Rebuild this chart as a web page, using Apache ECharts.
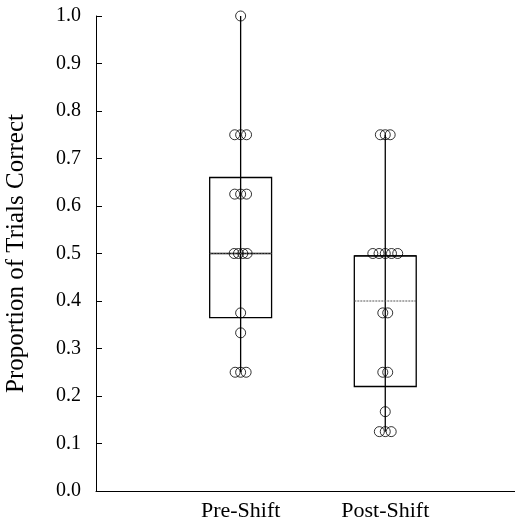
<!DOCTYPE html>
<html lang="en" style="height:100%">
<head>
    <meta charset="UTF-8">
    <title>Proportion of Trials Correct</title>
    <script src="https://cdn.jsdelivr.net/npm/echarts@6/dist/echarts.min.js"></script>
</head>
<body style="height:100%;margin:0;background:#fff">
<div id="main" style="width:515px;height:522px;"></div>
<script type="text/javascript">
    var groups = ['Pre-Shift', 'Post-Shift'];
    // box summaries, one entry per group
    var whiskerLow = [0.25, 0.125];
    var boxLow = [0.365, 0.22];
    var medianLine = [0.5, 0.495];
    var meanLine = [0.5, 0.40];
    var boxHigh = [0.66, 0.495];
    var whiskerHigh = [1.0, 0.75];
    // raw points and their horizontal jitter (in group units)
    var preValues = [1.0, 0.75, 0.75, 0.75, 0.625, 0.625, 0.625, 0.5, 0.5, 0.5, 0.5, 0.375, 0.333, 0.25, 0.25, 0.25];
    var preJitter = [0, -0.041, 0, 0.041, -0.041, 0, 0.041, -0.045, -0.015, 0.015, 0.045, 0, 0, -0.038, 0, 0.038];
    var postValues = [0.75, 0.75, 0.75, 0.5, 0.5, 0.5, 0.5, 0.5, 0.375, 0.375, 0.25, 0.25, 0.167, 0.125, 0.125, 0.125];
    var postJitter = [-0.034, 0, 0.034, -0.086, -0.043, 0, 0.043, 0.086, -0.017, 0.017, -0.017, 0.017, 0, -0.041, 0, 0.041];

    var boxHalf = 0.214;
    var serif = 'Liberation Serif';

    var boxData = groups.map(function (g, i) {
        return [i + 1, whiskerLow[i], boxLow[i], medianLine[i], meanLine[i], boxHigh[i], whiskerHigh[i]];
    });
    var points = [];
    preValues.forEach(function (v, i) { points.push([1 + preJitter[i], v]); });
    postValues.forEach(function (v, i) { points.push([2 + postJitter[i], v]); });

    var myChart = echarts.init(document.getElementById('main'));
    var option = {
        animation: false,
        backgroundColor: '#fff',
        grid: {left: 96, right: 0, top: 16, bottom: 31, containLabel: false, outerBoundsMode: 'none'},
        xAxis: {
            type: 'value',
            min: 0,
            max: 2.897,
            interval: 1,
            splitLine: {show: false},
            axisLine: {lineStyle: {color: '#000', width: 1}},
            axisTick: {show: false},
            axisLabel: {
                showMaxLabel: false,
                margin: 9,
                color: '#000',
                fontFamily: serif,
                fontSize: 22,
                formatter: function (v) { return groups[v - 1] || ''; }
            }
        },
        yAxis: {
            type: 'value',
            min: 0,
            max: 1,
            interval: 0.1,
            name: 'Proportion of Trials Correct',
            nameLocation: 'middle',
            nameRotate: 90,
            nameGap: 67,
            nameTextStyle: {color: '#000', fontFamily: serif, fontSize: 25},
            splitLine: {show: false},
            axisLine: {lineStyle: {color: '#000', width: 1}},
            axisTick: {inside: true, length: 6, lineStyle: {color: '#000'}},
            axisLabel: {
                margin: 15,
                color: '#000',
                fontFamily: serif,
                fontSize: 20,
                formatter: function (v) { return v.toFixed(1); }
            }
        },
        series: [
            {
                type: 'custom',
                data: boxData,
                renderItem: function (params, api) {
                    var x = api.value(0);
                    var lo = api.coord([x, api.value(1)]);
                    var hi = api.coord([x, api.value(6)]);
                    var bl = api.coord([x - boxHalf, api.value(2)]);
                    var tr = api.coord([x + boxHalf, api.value(5)]);
                    var mdL = api.coord([x - boxHalf, api.value(3)]);
                    var mdR = api.coord([x + boxHalf, api.value(3)]);
                    var mnL = api.coord([x - boxHalf, api.value(4)]);
                    var mnR = api.coord([x + boxHalf, api.value(4)]);
                    var line = {stroke: '#000', lineWidth: 1.3, fill: null};
                    return {
                        type: 'group',
                        children: [
                            {type: 'rect', shape: {x: bl[0], y: tr[1], width: tr[0] - bl[0], height: bl[1] - tr[1]}, style: line},
                            {type: 'line', shape: {x1: lo[0], y1: lo[1], x2: hi[0], y2: hi[1]}, style: line},
                            {type: 'line', shape: {x1: mdL[0], y1: mdL[1], x2: mdR[0], y2: mdR[1]}, style: line},
                            {type: 'line', shape: {x1: mnL[0], y1: mnL[1], x2: mnR[0], y2: mnR[1]},
                                style: {stroke: '#555', lineWidth: 1, lineDash: [2, 1]}}
                        ]
                    };
                },
                z: 1
            },
            {
                type: 'scatter',
                data: points,
                symbol: 'circle',
                symbolSize: 10,
                itemStyle: {color: 'rgba(0,0,0,0)', borderColor: '#000', borderWidth: 1},
                z: 2
            }
        ]
    };
    myChart.setOption(option);
</script>
</body>
</html>
